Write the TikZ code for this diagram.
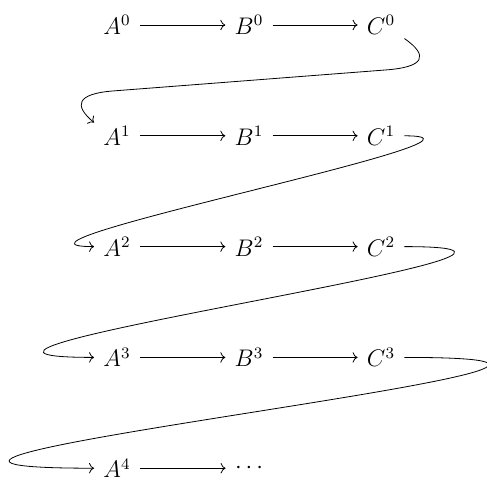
\documentclass[tikz,border=0pt]{standalone}
\usepackage{tikz}
\usetikzlibrary{arrows.meta, positioning, calc}

\begin{document}
\begin{tikzpicture}[
    node distance=55.4pt and 66pt, on grid,
    term/.style={inner sep=4.5pt, font=\large},
    map/.style={-{To}}
]
\useasboundingbox (-58.5pt,12.5pt) rectangle (185pt,-229pt);

% row 0
\node[term] (A0) {$A^0$};
\node[term, right=of A0] (B0) {$B^0$};
\node[term, right=of B0] (C0) {$C^0$};

% row 1
\node[term, below=of A0] (A1) {$A^1$};
\node[term, right=of A1] (B1) {$B^1$};
\node[term, right=of B1] (C1) {$C^1$};

% row 2
\node[term, below=of A1] (A2) {$A^2$};
\node[term, right=of A2] (B2) {$B^2$};
\node[term, right=of B2] (C2) {$C^2$};

% row 3
\node[term, below=of A2] (A3) {$A^3$};
\node[term, right=of A3] (B3) {$B^3$};
\node[term, right=of B3] (C3) {$C^3$};

% row 4
\node[term, below=of A3] (A4) {$A^4$};
\node[term, right=of A4] (D4) {$\cdots$};

\draw[map] (A0) -- (B0);
\draw[map] (B0) -- (C0);
\draw[map] (A1) -- (B1);
\draw[map] (B1) -- (C1);
\draw[map] (A2) -- (B2);
\draw[map] (B2) -- (C2);
\draw[map] (A3) -- (B3);
\draw[map] (B3) -- (C3);
\draw[map] (A4) -- (D4);

% connecting maps
\coordinate (r0) at ($(C0)+(2pt,-22.5pt)$);
\coordinate (l0) at ($(A1)+(-1pt,22.5pt)$);
\draw[map] (C0.-30) .. controls +(-35:15pt) and +(4:20pt) .. (r0) -- (l0)
    .. controls +(184:20pt) and +(140:13pt) .. (A1.150);
\draw[map] (C1) to[out=0, in=180] (A2);
\draw[map] (C2) to[out=0, in=180, looseness=2] (A3);
\draw[map] (C3) to[out=0, in=180, looseness=3] (A4);

\end{tikzpicture}
\end{document}
